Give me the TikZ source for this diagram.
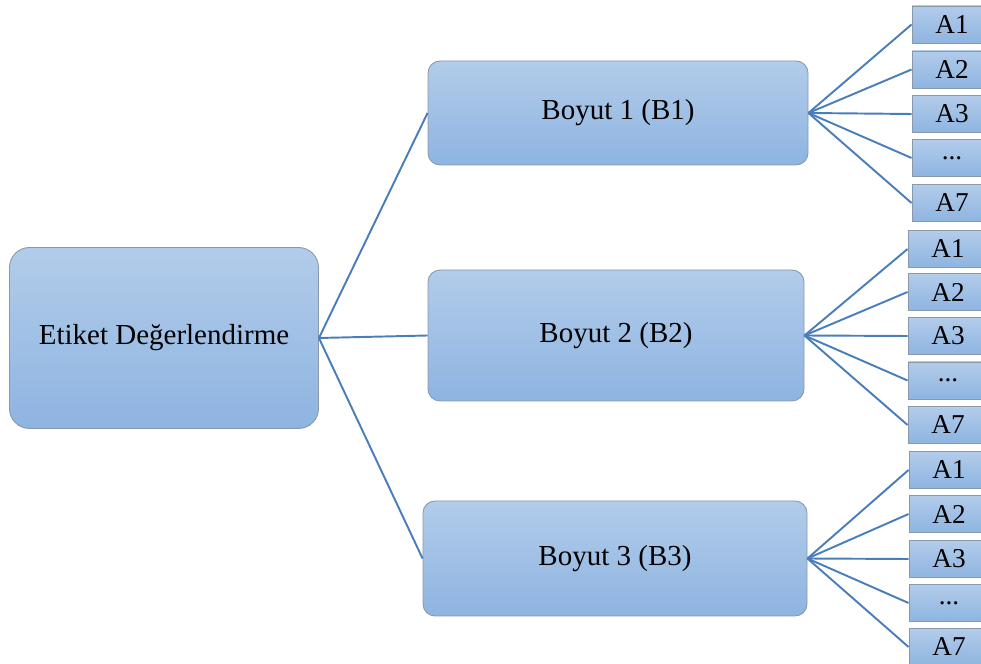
\documentclass[tikz,border=0pt]{standalone}
\usepackage{fontspec}
\setmainfont{Liberation Serif}
\usepackage{tikz}
\definecolor{boxTop}{RGB}{178,204,234}
\definecolor{boxBottom}{RGB}{142,180,225}
\definecolor{boxBorder}{RGB}{138,152,172}
\definecolor{edgeBlue}{RGB}{74,126,187}
\tikzset{
	every box/.style={
		rectangle,
		draw=boxBorder,
		line width=0.5pt,
		top color=boxTop,
		bottom color=boxBottom,
		inner sep=0pt,
		font=\fontsize{16.5}{19}\selectfont
	},
	leaf box/.style={
		every box,
		minimum width=16mm,
		minimum height=7.4mm,
		font=\fontsize{15.5}{18}\selectfont
	},
}

\begin{document}
\begin{tikzpicture}[x=0.2mm,y=-0.2mm]
\tikzset{RootStyle/.style = {every box, rounded corners=4mm, minimum width=61.8mm, minimum height=36.2mm}}
\tikzset{DimStyle/.style = {every box, rounded corners=2.4mm}}
\tikzset{EdgeStyle/.style = {draw=edgeBlue, line width=1.1pt}}
\useasboundingbox (0,0) rectangle (981,664);

\node[RootStyle] (etiket) at (164,338) {Etiket Değerlendirme};
	\node[DimStyle, minimum width=76mm, minimum height=20.8mm] (boyutOne) at (618,113) {Boyut 1 (B1)};
		\node[leaf box] (oneA1) at (952,24.5) {A1};
		\node[leaf box] (oneA2) at (952,69.5) {A2};
		\node[leaf box] (oneA3) at (952,114) {A3};
		\node[leaf box] (oneDots) at (952,158) {...};
		\node[leaf box] (oneA7) at (952,203) {A7};
	\node[DimStyle, minimum width=75.2mm, minimum height=26.2mm] (boyutTwo) at (616,335.5) {Boyut 2 (B2)};
		\node[leaf box] (twoA1) at (948,249) {A1};
		\node[leaf box] (twoA2) at (948,292) {A2};
		\node[leaf box] (twoA3) at (948,336) {A3};
		\node[leaf box] (twoDots) at (948,380.5) {...};
		\node[leaf box] (twoA7) at (948,425) {A7};
	\node[DimStyle, minimum width=76.8mm, minimum height=23mm] (boyutThree) at (615,558.5) {Boyut 3 (B3)};
		\node[leaf box] (threeA1) at (949,470) {A1};
		\node[leaf box] (threeA2) at (949,514) {A2};
		\node[leaf box] (threeA3) at (949,559) {A3};
		\node[leaf box] (threeDots) at (949,603) {...};
		\node[leaf box] (threeA7) at (949,647) {A7};

\draw[EdgeStyle] (etiket.east) -- (boyutOne.west);
\draw[EdgeStyle] (etiket.east) -- (boyutTwo.west);
\draw[EdgeStyle] (etiket.east) -- (boyutThree.west);
\draw[EdgeStyle] (boyutOne.east) -- (oneA1.west);
\draw[EdgeStyle] (boyutOne.east) -- (oneA2.west);
\draw[EdgeStyle] (boyutOne.east) -- (oneA3.west);
\draw[EdgeStyle] (boyutOne.east) -- (oneDots.west);
\draw[EdgeStyle] (boyutOne.east) -- (oneA7.west);
\draw[EdgeStyle] (boyutTwo.east) -- (twoA1.west);
\draw[EdgeStyle] (boyutTwo.east) -- (twoA2.west);
\draw[EdgeStyle] (boyutTwo.east) -- (twoA3.west);
\draw[EdgeStyle] (boyutTwo.east) -- (twoDots.west);
\draw[EdgeStyle] (boyutTwo.east) -- (twoA7.west);
\draw[EdgeStyle] (boyutThree.east) -- (threeA1.west);
\draw[EdgeStyle] (boyutThree.east) -- (threeA2.west);
\draw[EdgeStyle] (boyutThree.east) -- (threeA3.west);
\draw[EdgeStyle] (boyutThree.east) -- (threeDots.west);
\draw[EdgeStyle] (boyutThree.east) -- (threeA7.west);
\end{tikzpicture}
\end{document}
